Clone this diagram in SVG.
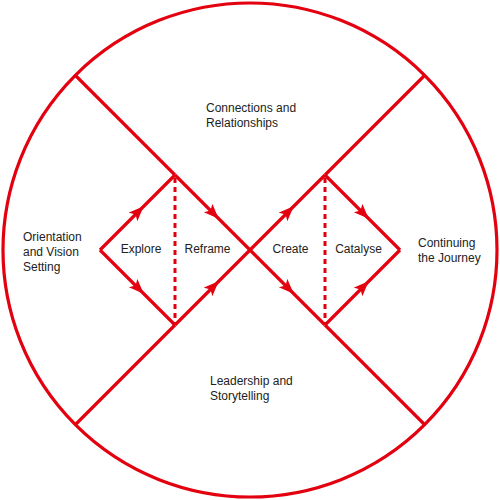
<svg xmlns="http://www.w3.org/2000/svg" width="500" height="500" viewBox="0 0 500 500">
<style>
.ln{fill:none;stroke:#e3000f;stroke-width:3.2;stroke-linejoin:miter}
.ar{marker-mid:url(#ah)}
.ds{fill:none;stroke:#e3000f;stroke-width:3;stroke-dasharray:5 4}
text{font-family:"Liberation Sans",Arial,sans-serif;font-size:12px;fill:#222}
</style>
<defs>
<marker id="ah" markerUnits="userSpaceOnUse" markerWidth="16" markerHeight="14" refX="14" refY="6" orient="auto" viewBox="0 0 16 14">
<path d="M0,0 L15,6 L0,12 L3.5,6 Z" fill="#e3000f"/>
</marker>
</defs>
<rect width="500" height="500" fill="#fff"/>
<g id="outer"><circle cx="250" cy="250" r="247" class="ln"/></g>
<g id="connectors">
<path class="ln" d="M75,75 L175,175"/>
<path class="ln ar" d="M175,175 L218,218 L250,250"/>
<path class="ln ar" d="M250,250 L293,293 L325,325"/>
<path class="ln" d="M325,325 L425,425"/>
<path class="ln" d="M425,75 L325,175"/>
<path class="ln ar" d="M250,250 L293,207 L325,175"/>
<path class="ln ar" d="M175,325 L218,282 L250,250"/>
<path class="ln" d="M175,325 L75,425"/>
<path class="ln ar" d="M100,250 L143,207 L175,175"/>
<path class="ln ar" d="M100,250 L143,293 L175,325"/>
<path class="ln ar" d="M325,175 L368,218 L400,250"/>
<path class="ln ar" d="M325,325 L368,282 L400,250"/>
<path class="ds" d="M175,178 V325"/>
<path class="ds" d="M325,178 V325"/>
</g>
<g id="connections"><text x="206" y="112">Connections and</text><text x="206" y="127">Relationships</text></g>
<g id="leadership"><text x="210" y="385">Leadership and</text><text x="210" y="400">Storytelling</text></g>
<g id="orientation"><text x="23" y="241">Orientation</text><text x="23" y="256">and Vision</text><text x="23" y="271">Setting</text></g>
<g id="continuing"><text x="418" y="247">Continuing</text><text x="418" y="262">the Journey</text></g>
<g id="explore"><text x="141" y="253" text-anchor="middle">Explore</text></g>
<g id="reframe"><text x="207.5" y="253" text-anchor="middle">Reframe</text></g>
<g id="create"><text x="290.5" y="253" text-anchor="middle">Create</text></g>
<g id="catalyse"><text x="358.5" y="253" text-anchor="middle">Catalyse</text></g>
</svg>
